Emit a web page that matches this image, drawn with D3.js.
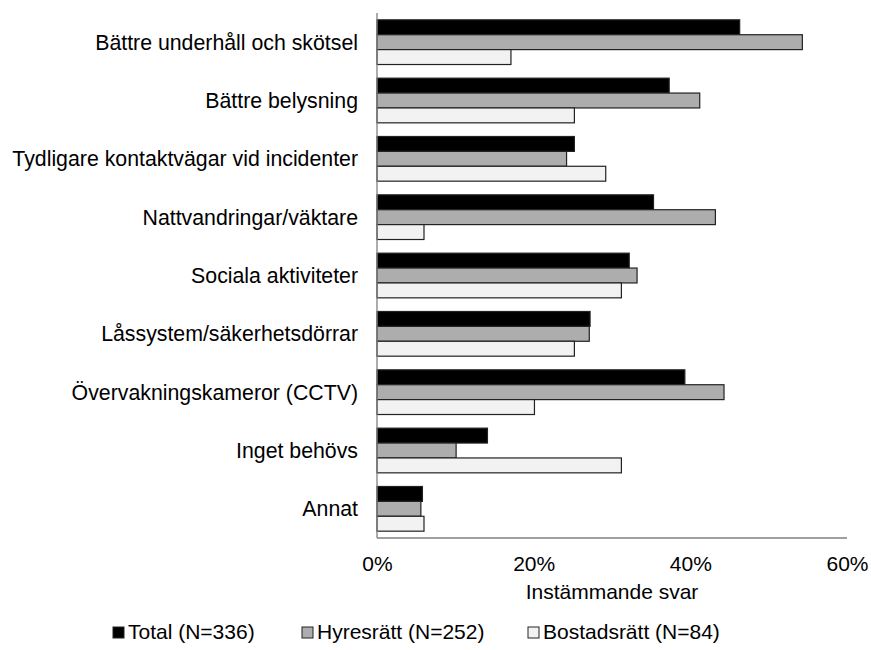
<!DOCTYPE html>
<html>
<head>
<meta charset="utf-8">
<script src="https://cdn.jsdelivr.net/npm/d3@7"></script>
<style>
  body { margin: 0; background: #fff; }
  text { font-family: "Liberation Sans", Arial, sans-serif; fill: #000; }
</style>
</head>
<body>
<div id="chart"></div>
<script>
// categories, top to bottom
var categories = [
  "Bättre underhåll och skötsel",
  "Bättre belysning",
  "Tydligare kontaktvägar vid incidenter",
  "Nattvandringar/väktare",
  "Sociala aktiviteter",
  "Låssystem/säkerhetsdörrar",
  "Övervakningskameror (CCTV)",
  "Inget behövs",
  "Annat"
];

var seriesNames = ["Total (N=336)", "Hyresrätt (N=252)", "Bostadsrätt (N=84)"];
var seriesColors = ["#000000", "#adadad", "#f2f2f2"];

// share of agreeing answers (%)
var totalValues = [46.3, 37.3, 25.2, 35.3, 32.2, 27.2, 39.3, 14.1, 5.8];
var hyresValues = [54.3, 41.2, 24.2, 43.2, 33.2, 27.1, 44.3, 10.1, 5.6];
var bostadValues = [17.1, 25.2, 29.2, 6.0, 31.2, 25.2, 20.1, 31.2, 6.0];

var xTicks = [0, 20, 40, 60];

var svgWidth = 871;
var svgHeight = 650;

var margin = { top: 13, right: 24, bottom: 112, left: 377 };
var width = svgWidth - margin.left - margin.right;
var height = svgHeight - margin.top - margin.bottom;

var svg = d3.select("#chart")
  .append("svg")
  .attr("width", svgWidth)
  .attr("height", svgHeight);

var chartGroup = svg.append("g")
  .attr("transform", `translate(${margin.left}, ${margin.top})`);

var xScale = d3.scaleLinear()
  .domain([0, 60])
  .range([0, width]);

var yScale = d3.scaleBand()
  .domain(categories)
  .range([0, height])
  .paddingInner(0.234)
  .paddingOuter(0.117);

var subScale = d3.scaleBand()
  .domain(d3.range(seriesNames.length))
  .range([0, yScale.bandwidth()]);

var rows = categories.map(function(c, i) {
  return { cat: c, values: [totalValues[i], hyresValues[i], bostadValues[i]] };
});

// bars
var groups = chartGroup.selectAll(".cat")
  .data(rows)
  .enter()
  .append("g")
  .attr("class", "cat")
  .attr("transform", d => `translate(0, ${yScale(d.cat)})`);

groups.selectAll("rect")
  .data(d => d.values.map((v, k) => ({ v: v, k: k })))
  .enter()
  .append("rect")
  .attr("x", 0)
  .attr("y", d => subScale(d.k))
  .attr("width", d => xScale(d.v))
  .attr("height", subScale.bandwidth())
  .attr("fill", d => seriesColors[d.k])
  .attr("stroke", "#222")
  .attr("stroke-width", 1.2);

// category labels
chartGroup.selectAll(".catLabel")
  .data(categories)
  .enter()
  .append("text")
  .attr("class", "catLabel")
  .attr("x", -19)
  .attr("y", d => yScale(d) + yScale.bandwidth() / 2)
  .attr("dy", "0.35em")
  .attr("text-anchor", "end")
  .attr("font-size", "21.3px")
  .text(d => d);

// axis lines
chartGroup.append("line")
  .attr("x1", 0).attr("x2", 0)
  .attr("y1", 0).attr("y2", height)
  .attr("stroke", "#808080")
  .attr("stroke-width", 1.3);

chartGroup.append("line")
  .attr("x1", 0).attr("x2", width)
  .attr("y1", height).attr("y2", height)
  .attr("stroke", "#808080")
  .attr("stroke-width", 1.3);

// x tick labels
var bottomAxis = d3.axisBottom(xScale)
  .tickValues(xTicks)
  .tickSize(0)
  .tickPadding(18)
  .tickFormat(d => d + "%");

var xAxis = chartGroup.append("g")
  .attr("transform", `translate(0, ${height})`)
  .call(bottomAxis);

xAxis.select(".domain").remove();
xAxis.selectAll("text")
  .attr("font-size", "21px")
  .attr("font-family", "Liberation Sans, Arial, sans-serif")
  .attr("fill", "#000");

// x axis title
chartGroup.append("text")
  .attr("x", width / 2)
  .attr("y", height + 54)
  .attr("dy", "0.35em")
  .attr("text-anchor", "middle")
  .attr("font-size", "21px")
  .text("Instämmande svar");

// legend
var legendX = [113, 302, 528];
var legend = svg.selectAll(".legend")
  .data(seriesNames)
  .enter()
  .append("g")
  .attr("class", "legend")
  .attr("transform", (d, i) => `translate(${legendX[i]}, 632)`);

legend.append("rect")
  .attr("x", 0)
  .attr("y", -5)
  .attr("width", 11)
  .attr("height", 11)
  .attr("fill", (d, i) => seriesColors[i])
  .attr("stroke", "#222")
  .attr("stroke-width", 1);

legend.append("text")
  .attr("x", 15)
  .attr("y", 0)
  .attr("dy", "0.35em")
  .attr("font-size", "21px")
  .text(d => d);
</script>
</body>
</html>
